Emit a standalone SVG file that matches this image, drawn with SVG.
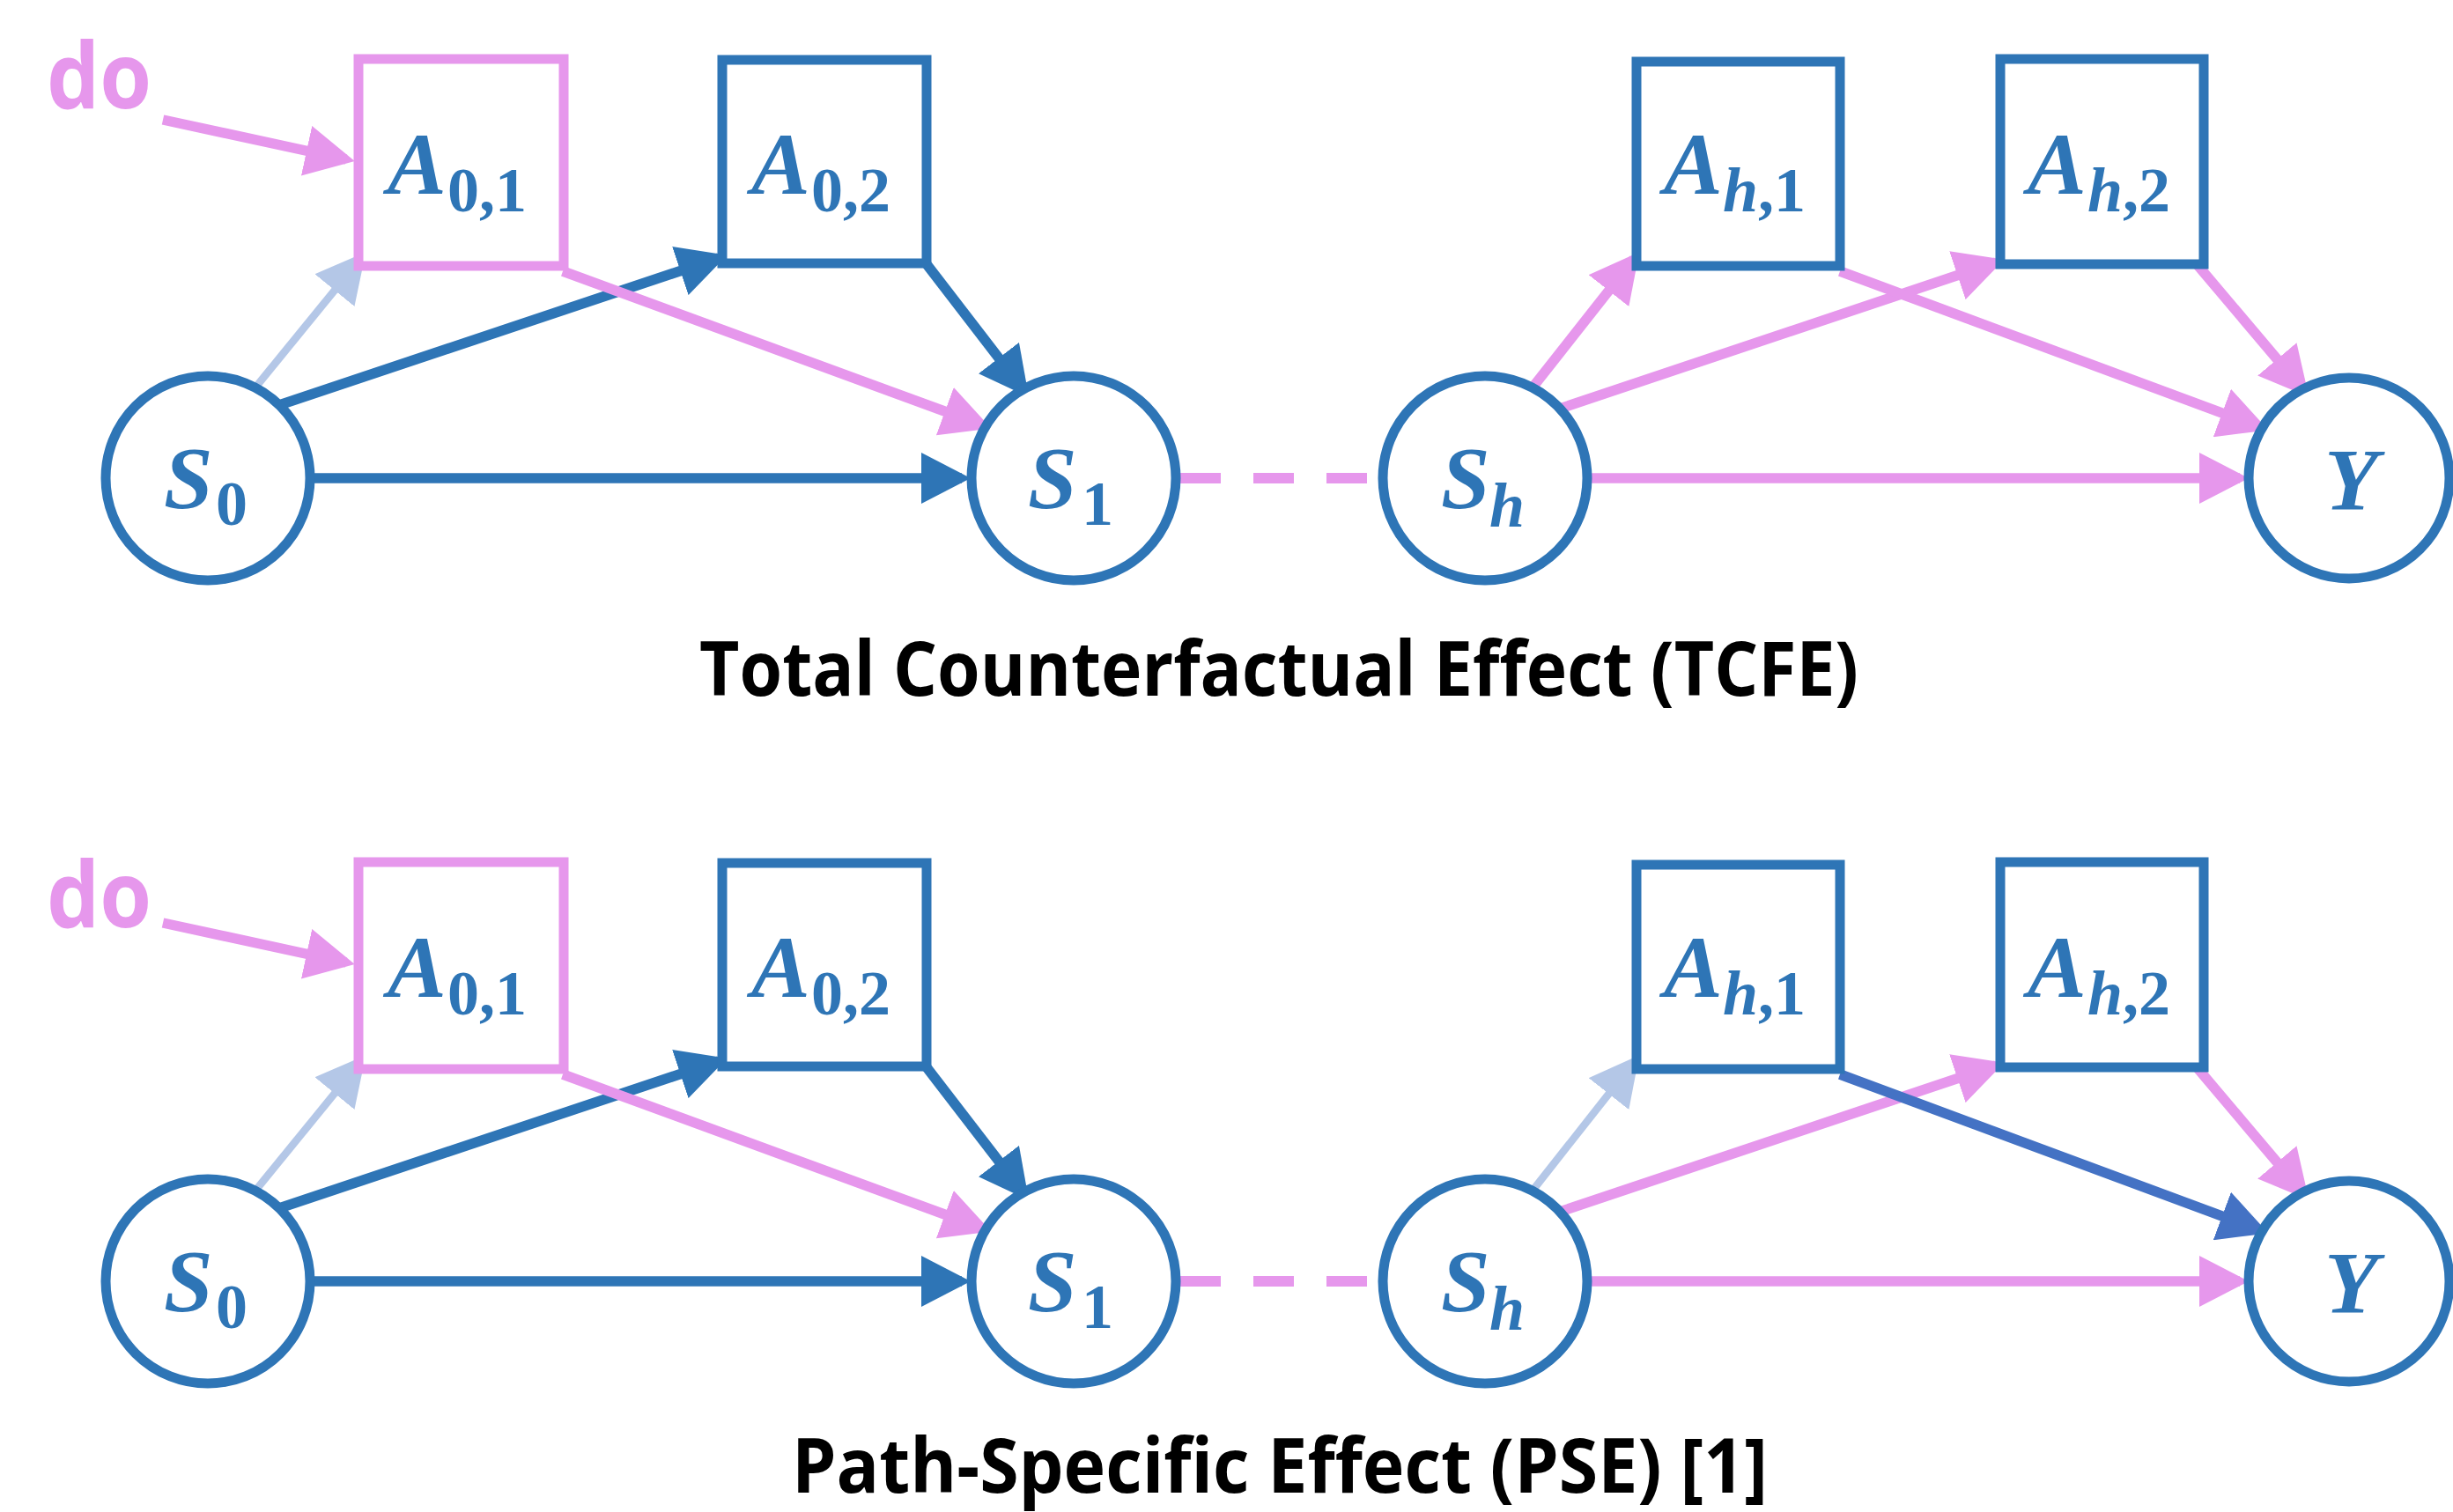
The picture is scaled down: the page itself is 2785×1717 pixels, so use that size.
<svg xmlns="http://www.w3.org/2000/svg" width="2785" height="1717" viewBox="0 0 2785 1717">
<style>
.bg{fill:#ffffff}
.circ{fill:#ffffff;stroke:#2E75B6;stroke-width:11}
.box{fill:#ffffff;stroke:#2E75B6;stroke-width:11}
.boxp{fill:#ffffff;stroke:#E697EC;stroke-width:11}
.lab{font-family:"Liberation Serif","DejaVu Serif",serif;font-weight:bold;font-style:italic;fill:#2E75B6;font-size:100px}
.sub{font-size:72px;font-style:normal}
.subi{font-style:italic}
.title{font-family:"Open Sans","Noto Sans","Liberation Sans",sans-serif;font-weight:bold;font-size:86px;fill:#000000}
.do{font-family:"Open Sans","Noto Sans","Liberation Sans",sans-serif;font-weight:bold;font-size:104px;fill:#E697EC}
.ep{fill:none;stroke:#E697EC;stroke-width:11.5}
.eb{fill:none;stroke:#2E75B6;stroke-width:11.5}
.el{fill:none;stroke:#B4C7E7;stroke-width:8.5}
.ed{fill:none;stroke:#4472C4;stroke-width:11.5}
.dash{fill:none;stroke:#E697EC;stroke-width:12;stroke-dasharray:46 37}
</style>
<defs>
<marker id="hp" markerUnits="userSpaceOnUse" markerWidth="56" markerHeight="58" refX="46" refY="29" orient="auto"><path d="M0,0 L56,29 L0,58 Z" fill="#E697EC"/></marker>
<marker id="hb" markerUnits="userSpaceOnUse" markerWidth="56" markerHeight="58" refX="46" refY="29" orient="auto"><path d="M0,0 L56,29 L0,58 Z" fill="#2E75B6"/></marker>
<marker id="hl" markerUnits="userSpaceOnUse" markerWidth="56" markerHeight="58" refX="46" refY="29" orient="auto"><path d="M0,0 L56,29 L0,58 Z" fill="#B4C7E7"/></marker>
<marker id="hd" markerUnits="userSpaceOnUse" markerWidth="56" markerHeight="58" refX="46" refY="29" orient="auto"><path d="M0,0 L56,29 L0,58 Z" fill="#4472C4"/></marker>
</defs>
<rect class="bg" x="0" y="0" width="2785" height="1717"/>

<!-- TOP DIAGRAM -->
<g id="connectors-top">
<line class="ep" x1="185" y1="136" x2="393" y2="181" marker-end="url(#hp)"/>
<line class="el" x1="290" y1="440" x2="409" y2="294" marker-end="url(#hl)"/>
<line class="eb" x1="317" y1="460" x2="816" y2="293" marker-end="url(#hb)"/>
<line class="ep" x1="639" y1="308" x2="1116" y2="483" marker-end="url(#hp)"/>
<line class="eb" x1="1052" y1="300" x2="1162" y2="443" marker-end="url(#hb)"/>
<line class="eb" x1="353" y1="543" x2="1092" y2="543" marker-end="url(#hb)"/>
<line class="dash" x1="1340" y1="543" x2="1556" y2="543"/>
<line class="ep" x1="1740" y1="440" x2="1855" y2="294" marker-end="url(#hp)"/>
<line class="ep" x1="1771" y1="464" x2="2266" y2="298" marker-end="url(#hp)"/>
<line class="ep" x1="2089" y1="308" x2="2566" y2="485" marker-end="url(#hp)"/>
<line class="ep" x1="2495" y1="301" x2="2615" y2="443" marker-end="url(#hp)"/>
<line class="ep" x1="1802" y1="543" x2="2543" y2="543" marker-end="url(#hp)"/>
</g>

<g id="do-top"><text class="do" x="53" y="123" textLength="119" lengthAdjust="spacingAndGlyphs">do</text></g>

<g id="A01-top"><rect class="boxp" x="407" y="67" width="233" height="235"/>
<text class="lab" x="440" y="220">A<tspan class="sub" x="508" y="240">0,1</tspan></text></g>
<g id="A02-top"><rect class="box" x="820" y="68" width="232" height="231"/>
<text class="lab" x="853" y="220">A<tspan class="sub" x="921" y="240">0,2</tspan></text></g>
<g id="Ah1-top"><rect class="box" x="1858" y="70" width="231" height="232"/>
<text class="lab" x="1889" y="220">A<tspan class="sub" x="1956" y="240"><tspan class="subi">h</tspan>,1</tspan></text></g>
<g id="Ah2-top"><rect class="box" x="2271" y="67" width="231" height="233"/>
<text class="lab" x="2302" y="220">A<tspan class="sub" x="2370" y="240"><tspan class="subi">h</tspan>,2</tspan></text></g>

<g id="S0-top"><circle class="circ" cx="236" cy="543" r="116"/>
<text class="lab" x="186" y="576">S<tspan class="sub" x="245" y="596">0</tspan></text></g>
<g id="S1-top"><circle class="circ" cx="1219" cy="543" r="116"/>
<text class="lab" x="1167" y="576">S<tspan class="sub" x="1228" y="596">1</tspan></text></g>
<g id="Sh-top"><circle class="circ" cx="1686" cy="543" r="116"/>
<text class="lab" x="1636" y="576">S<tspan class="sub subi" x="1691" y="598">h</tspan></text></g>
<g id="Y-top"><circle class="circ" cx="2667" cy="543" r="114"/>
<text class="lab" x="2639" y="578">Y</text></g>

<text class="title" x="794" y="790" textLength="1316" lengthAdjust="spacingAndGlyphs">Total Counterfactual Effect (TCFE)</text>

<!-- BOTTOM DIAGRAM -->
<g id="connectors-bottom">
<line class="ep" x1="185" y1="1048" x2="393" y2="1093" marker-end="url(#hp)"/>
<line class="el" x1="290" y1="1352" x2="409" y2="1206" marker-end="url(#hl)"/>
<line class="eb" x1="317" y1="1372" x2="816" y2="1205" marker-end="url(#hb)"/>
<line class="ep" x1="639" y1="1220" x2="1116" y2="1395" marker-end="url(#hp)"/>
<line class="eb" x1="1052" y1="1212" x2="1162" y2="1355" marker-end="url(#hb)"/>
<line class="eb" x1="353" y1="1455" x2="1092" y2="1455" marker-end="url(#hb)"/>
<line class="dash" x1="1340" y1="1455" x2="1556" y2="1455"/>
<line class="el" x1="1740" y1="1352" x2="1855" y2="1206" marker-end="url(#hl)"/>
<line class="ep" x1="1771" y1="1376" x2="2266" y2="1210" marker-end="url(#hp)"/>
<line class="ed" x1="2089" y1="1220" x2="2566" y2="1397" marker-end="url(#hd)"/>
<line class="ep" x1="2495" y1="1213" x2="2615" y2="1355" marker-end="url(#hp)"/>
<line class="ep" x1="1802" y1="1455" x2="2543" y2="1455" marker-end="url(#hp)"/>
</g>

<g id="do-bottom"><text class="do" x="53" y="1053" textLength="119" lengthAdjust="spacingAndGlyphs">do</text></g>

<g id="A01-bottom"><rect class="boxp" x="407" y="979" width="233" height="235"/>
<text class="lab" x="440" y="1132">A<tspan class="sub" x="508" y="1152">0,1</tspan></text></g>
<g id="A02-bottom"><rect class="box" x="820" y="980" width="232" height="231"/>
<text class="lab" x="853" y="1132">A<tspan class="sub" x="921" y="1152">0,2</tspan></text></g>
<g id="Ah1-bottom"><rect class="box" x="1858" y="982" width="231" height="232"/>
<text class="lab" x="1889" y="1132">A<tspan class="sub" x="1956" y="1152"><tspan class="subi">h</tspan>,1</tspan></text></g>
<g id="Ah2-bottom"><rect class="box" x="2271" y="979" width="231" height="233"/>
<text class="lab" x="2302" y="1132">A<tspan class="sub" x="2370" y="1152"><tspan class="subi">h</tspan>,2</tspan></text></g>

<g id="S0-bottom"><circle class="circ" cx="236" cy="1455" r="116"/>
<text class="lab" x="186" y="1488">S<tspan class="sub" x="245" y="1508">0</tspan></text></g>
<g id="S1-bottom"><circle class="circ" cx="1219" cy="1455" r="116"/>
<text class="lab" x="1167" y="1488">S<tspan class="sub" x="1228" y="1508">1</tspan></text></g>
<g id="Sh-bottom"><circle class="circ" cx="1686" cy="1455" r="116"/>
<text class="lab" x="1636" y="1488">S<tspan class="sub subi" x="1691" y="1510">h</tspan></text></g>
<g id="Y-bottom"><circle class="circ" cx="2667" cy="1455" r="114"/>
<text class="lab" x="2639" y="1490">Y</text></g>

<text class="title" x="899" y="1695" font-size="82" textLength="1108" lengthAdjust="spacingAndGlyphs">Path-Specific Effect (PSE) [1]</text>
</svg>
